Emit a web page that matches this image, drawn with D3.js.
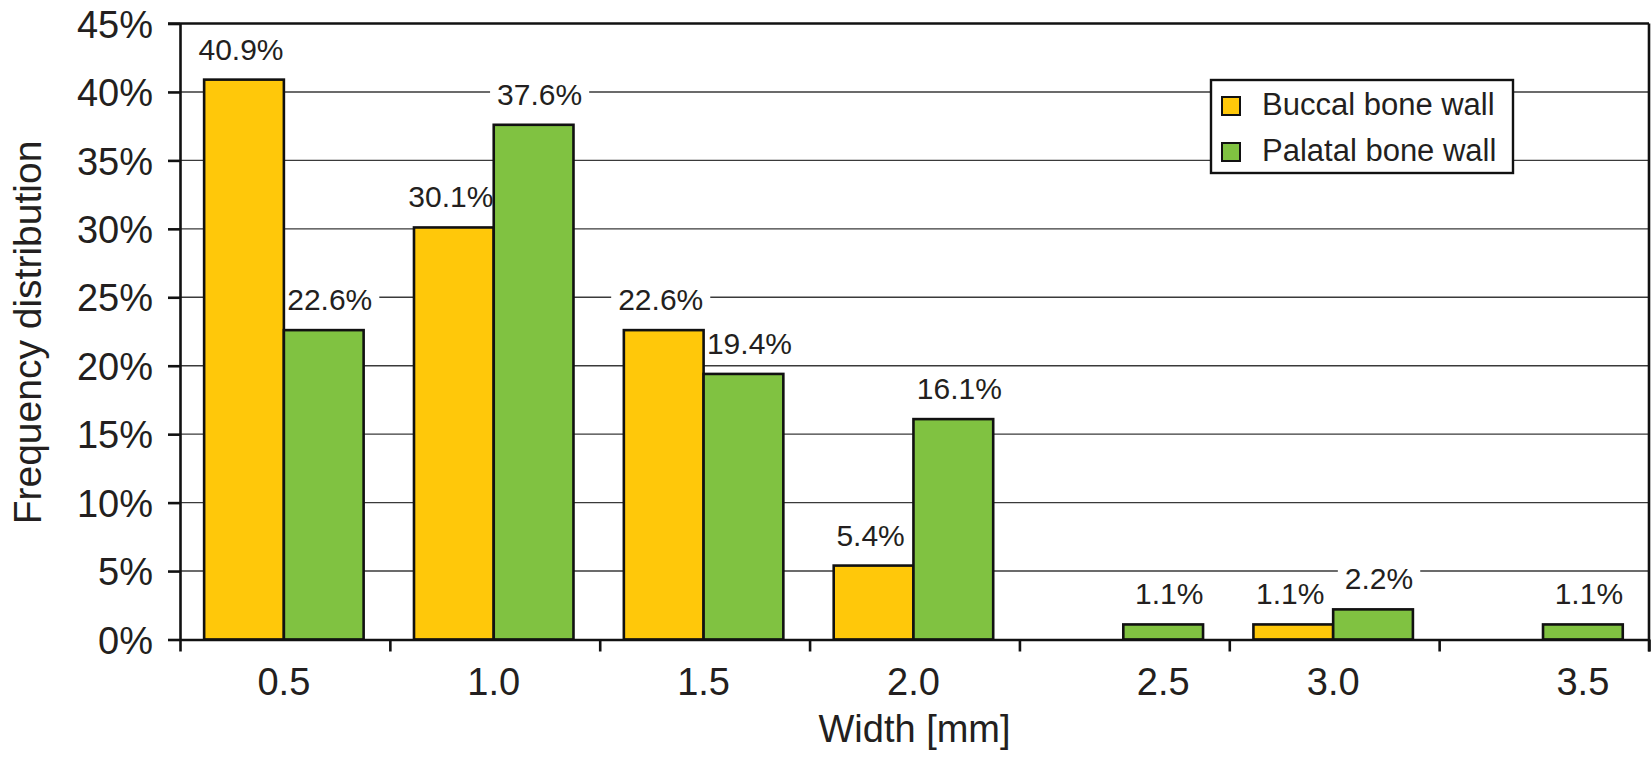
<!DOCTYPE html>
<html>
<head>
<meta charset="utf-8">
<script src="https://cdn.jsdelivr.net/npm/d3@7"></script>
<style>
  html, body { margin: 0; padding: 0; background: #fff; }
  svg { display: block; font-family: "Liberation Sans", Arial, Helvetica, sans-serif; }
</style>
</head>
<body>
<svg id="chart" width="1651" height="758"></svg>
<script>
// ---- data ----
const categories = ["0.5", "1.0", "1.5", "2.0", "2.5", "3.0", "3.5"];
const seriesNames = ["Buccal bone wall", "Palatal bone wall"];
const buccal  = [40.9, 30.1, 22.6, 5.4, 0, 1.1, 0];
const palatal = [22.6, 37.6, 19.4, 16.1, 1.1, 2.2, 1.1];
const yTicks = [0, 5, 10, 15, 20, 25, 30, 35, 40, 45];
const colors = ["#FFC80A", "#80C241"];
const xTitle = "Width [mm]";
const yTitle = "Frequency distribution";

(function () {
// ---- layout ----
const mLeft = 180, mRight = 1649, mTop = 23.5, mBottom = 639.5;
const ink = "#231f20";
const labelShift = [-3, 6];

const svg = d3.select("#chart");

const x0 = d3.scaleBand().domain(categories).range([mLeft, mRight]).padding(0);
const x1 = d3.scaleBand().domain([0, 1])
  .range([x0.bandwidth() * 0.115, x0.bandwidth() * 0.875]).padding(0);
const y = d3.scaleLinear().domain([0, 45]).range([mBottom, mTop]);

// gridlines
svg.append("g").selectAll("line").data(yTicks.filter(d => d > 0 && d < 45)).join("line")
  .attr("x1", mLeft).attr("x2", mRight)
  .attr("y1", d => y(d)).attr("y2", d => y(d))
  .attr("stroke", "#3a3a3a").attr("stroke-width", 1.4);

const rows = categories.map((c, i) => ({ c, vals: [buccal[i], palatal[i]] }));

// value labels: white backing under bars, text on top
const labels = [];
rows.forEach((r, i) => r.vals.forEach((v, k) => {
  if (v > 0) labels.push({ v, x: x0(r.c) + x1(k) + x1.bandwidth() / 2 + labelShift[k], y: y(v) - 20 });
}));
const backG = svg.append("g");
const bars = svg.append("g");
const textG = svg.append("g");
textG.selectAll("text").data(labels).join("text")
  .attr("x", d => d.x).attr("y", d => d.y)
  .attr("text-anchor", "middle").attr("font-size", 30).attr("fill", ink)
  .text(d => d.v.toFixed(1) + "%")
  .each(function () {
    const b = this.getBBox();
    backG.append("rect").attr("x", b.x - 7).attr("y", b.y - 1)
      .attr("width", b.width + 14).attr("height", b.height).attr("fill", "#fff");
  });

// bars
const groups = bars.selectAll("g").data(rows).join("g")
  .attr("transform", d => `translate(${x0(d.c)},0)`);
groups.selectAll("rect").data(d => d.vals.map((v, k) => ({ v, k })).filter(o => o.v > 0)).join("rect")
  .attr("x", o => x1(o.k))
  .attr("width", x1.bandwidth())
  .attr("y", o => y(o.v))
  .attr("height", o => y(0) - y(o.v))
  .attr("fill", o => colors[o.k])
  .attr("stroke", "#111").attr("stroke-width", 2.6);

// frame: top & right
svg.append("line").attr("x1", mLeft - 12).attr("x2", mRight).attr("y1", y(45)).attr("y2", y(45))
  .attr("stroke", "#111").attr("stroke-width", 2.6);
svg.append("line").attr("x1", mRight).attr("x2", mRight).attr("y1", y(45)).attr("y2", y(0) + 12)
  .attr("stroke", "#111").attr("stroke-width", 2.6);

// y axis
const yAxis = svg.append("g").attr("transform", `translate(${mLeft},0)`)
  .call(d3.axisLeft(y).tickValues(yTicks).tickFormat(d => d + "%").tickSize(12).tickPadding(15).tickSizeOuter(0));
yAxis.select(".domain").attr("stroke", "#111").attr("stroke-width", 2.6);
yAxis.selectAll(".tick line").attr("stroke", "#111").attr("stroke-width", 2.6);
yAxis.selectAll(".tick text").attr("font-size", 38).attr("fill", ink)
  .attr("font-family", "Liberation Sans, Arial, sans-serif").attr("dy", "0.36em");

// x axis (ticks at category boundaries)
const xb = d3.scaleLinear().domain([0, categories.length]).range([mLeft, mRight]);
const xAxis = svg.append("g").attr("transform", `translate(0,${mBottom})`)
  .call(d3.axisBottom(xb).tickValues(d3.range(0, categories.length + 1)).tickFormat("").tickSize(12).tickSizeOuter(0));
xAxis.select(".domain").attr("stroke", "#111").attr("stroke-width", 2.6);
xAxis.selectAll(".tick line").attr("stroke", "#111").attr("stroke-width", 2.6);

// category labels (centred on the group, or on the only bar present)
function labelX(i) {
  const c = categories[i];
  const present = [buccal[i], palatal[i]].map((v, k) => v > 0 ? k : -1).filter(k => k >= 0);
  if (present.length === 1) return x0(c) + x1(present[0]) + x1.bandwidth() / 2;
  return x0(c) + (x1(0) + x1(1) + x1.bandwidth()) / 2;
}
svg.append("g").selectAll("text").data(categories).join("text")
  .attr("x", (d, i) => labelX(i))
  .attr("y", 695)
  .attr("text-anchor", "middle").attr("font-size", 38).attr("fill", ink)
  .text(d => d);

// legend
const leg = svg.append("g").attr("transform", "translate(1211,80)");
leg.append("rect").attr("width", 302).attr("height", 93)
  .attr("fill", "#fff").attr("stroke", "#111").attr("stroke-width", 2.4);
seriesNames.forEach((name, k) => {
  const row = leg.append("g").attr("transform", `translate(0,${17 + k * 46})`);
  row.append("rect").attr("x", 11).attr("y", 0).attr("width", 18).attr("height", 18)
    .attr("fill", colors[k]).attr("stroke", "#111").attr("stroke-width", 2);
  row.append("text").attr("x", 51).attr("y", 18).attr("font-size", 31).attr("fill", ink).text(name);
});

// axis titles
svg.append("text").attr("x", (mLeft + mRight) / 2).attr("y", 742)
  .attr("text-anchor", "middle").attr("font-size", 38).attr("fill", ink).text(xTitle);
svg.append("text").attr("transform", `translate(41,${(mTop + mBottom) / 2 + 1}) rotate(-90)`)
  .attr("text-anchor", "middle").attr("font-size", 39).attr("fill", ink).text(yTitle);
})();
</script>
</body>
</html>
